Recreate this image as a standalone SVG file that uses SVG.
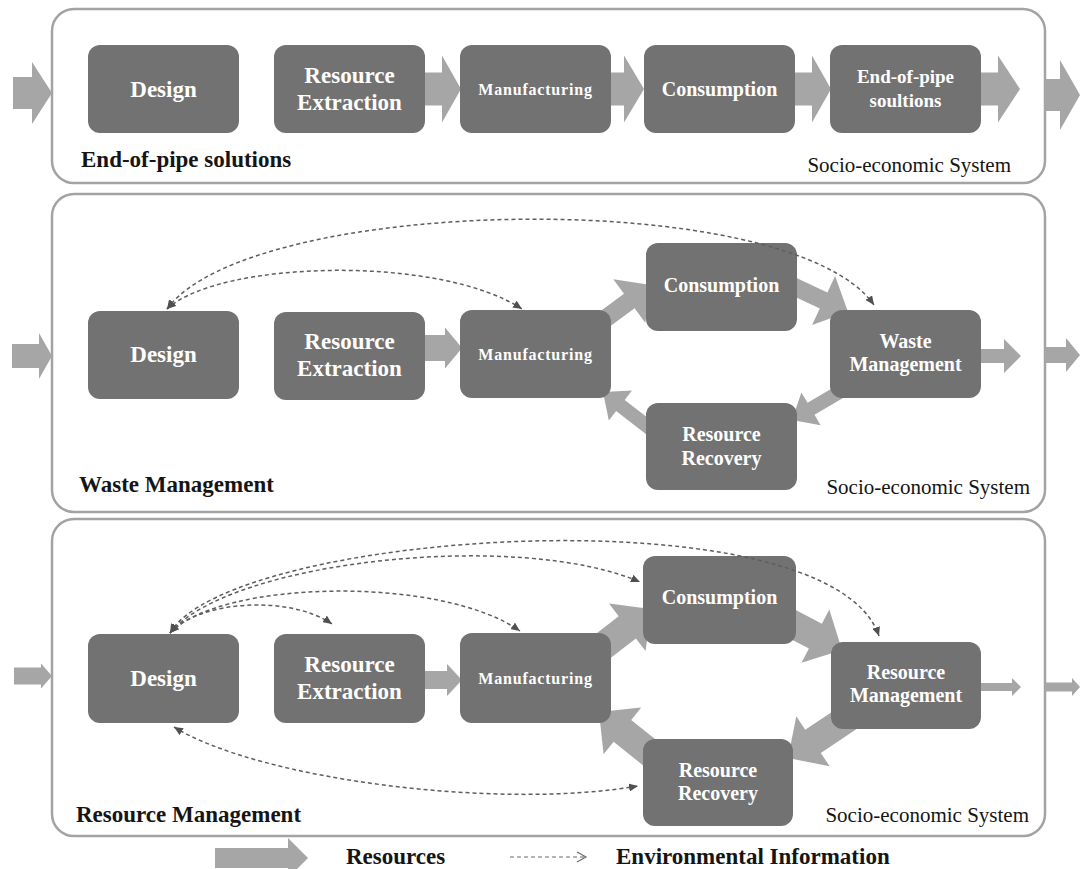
<svg xmlns="http://www.w3.org/2000/svg" width="1080" height="869" viewBox="0 0 1080 869">
<style>
.panel{fill:#fff;stroke:#a3a3a3;stroke-width:2.5}
.box{fill:#727272}
.bt{font-family:"Liberation Serif",serif;font-weight:bold;fill:#fff;text-anchor:middle}
.arr{fill:#a6a6a6}
.dash{fill:none;stroke:#5e5e5e;stroke-width:1.5;stroke-dasharray:4 3}
.lbl{font-family:"Liberation Serif",serif;font-weight:bold;font-size:23px;fill:#151515}
.sys{font-family:"Liberation Serif",serif;font-size:21px;fill:#151515;text-anchor:end}
</style>
<defs>
<marker id="ah" viewBox="0 0 9 8" refX="9" refY="4" markerWidth="9" markerHeight="8" markerUnits="userSpaceOnUse" orient="auto-start-reverse">
<path d="M0,0 L9,4 L0,8 z" fill="#505050"/>
</marker>
</defs>
<rect width="1080" height="869" fill="#fff"/>
<g id="panels">
<rect class="panel" x="52" y="9" width="993" height="174" rx="22"/>
<rect class="panel" x="52" y="194" width="993" height="318" rx="22"/>
<rect class="panel" x="52" y="519" width="993" height="317" rx="22"/>
</g>
<g id="connectors">
<polygon class="arr" points="13,77 32,77 32,62 52,93 32,124 32,109 13,109"/>
<polygon class="arr" points="420,72.5 442,72.5 442,55.5 461,89 442,122.5 442,105.5 420,105.5"/>
<polygon class="arr" points="606,72.5 624,72.5 624,55.5 644,89 624,122.5 624,105.5 606,105.5"/>
<polygon class="arr" points="790,72.5 812,72.5 812,55.5 831,89 812,122.5 812,105.5 790,105.5"/>
<polygon class="arr" points="976,72.5 998,72.5 998,55.5 1020,89 998,122.5 998,105.5 976,105.5"/>
<polygon class="arr" points="1045,79 1060,79 1060,60 1080,95 1060,130 1060,111 1045,111"/>
<polygon class="arr" points="12,344 39,344 39,333 52,356 39,379 39,368 12,368"/>
<polygon class="arr" points="420,335 445,335 445,327.5 462,348 445,368.5 445,361 420,361"/>
<polygon class="arr" points="976,349 1004,349 1004,339 1021,356 1004,373 1004,363 976,363"/>
<polygon class="arr" points="1045,347 1066,347 1066,338 1080,355 1066,372 1066,363 1045,363"/>
<polygon class="arr" points="595.3,337.2 634.6,308.2 645.3,322.7 651,285 613.3,279.3 624,293.8 584.7,322.8"/>
<polygon class="arr" points="776.2,288.1 819.8,308.6 812.1,324.9 848,312 835.1,276.1 827.4,292.4 783.8,271.9"/>
<polygon class="arr" points="856.5,374 807.5,402.8 801.4,392.4 792,420 820.6,425.2 814.5,414.8 863.5,386"/>
<polygon class="arr" points="669.3,434.5 624.7,400 632,390.5 603,392 608.8,420.5 616.1,411 660.7,445.5"/>
<polygon class="arr" points="14,667.5 41,667.5 41,663.5 52,676 41,688.5 41,684.5 14,684.5"/>
<polygon class="arr" points="420,671 447,671 447,664 462,680 447,696 447,689 420,689"/>
<polygon class="arr" points="976,683 1012,683 1012,678 1021,687 1012,696 1012,691 976,691"/>
<polygon class="arr" points="1045,682.5 1072,682.5 1072,678 1080,687 1072,696 1072,691.5 1045,691.5"/>
<polygon class="arr" points="593.6,671.1 635.9,638.4 645.6,651 651,609 609,603.6 618.7,616.2 576.4,648.9"/>
<polygon class="arr" points="768.5,627.4 808.9,648.5 801.5,662.7 842,650 829.3,609.5 821.9,623.7 781.5,602.6"/>
<polygon class="arr" points="852.2,698.4 805.2,729.7 796.3,716.3 788,758 829.7,766.3 820.8,752.9 867.8,721.6"/>
<polygon class="arr" points="673.8,754.1 631.2,719.9 641.2,707.4 599,712 603.6,754.2 613.6,741.7 656.2,775.9"/>
</g>
<g id="n1-design"><rect class="box" x="88" y="45" width="151" height="88" rx="12"/><text class="bt" x="163.5" y="97" font-size="23">Design</text></g>
<g id="n1-extraction"><rect class="box" x="274" y="45" width="151" height="88" rx="12"/><text class="bt" x="349.5" y="83" font-size="23">Resource</text><text class="bt" x="349.5" y="110" font-size="23">Extraction</text></g>
<g id="n1-manufacturing"><rect class="box" x="460" y="45" width="151" height="88" rx="12"/><text class="bt" x="535.5" y="95" font-size="16" letter-spacing="0.8">Manufacturing</text></g>
<g id="n1-consumption"><rect class="box" x="644" y="45" width="151" height="88" rx="12"/><text class="bt" x="719.5" y="96" font-size="20">Consumption</text></g>
<g id="n1-endofpipe"><rect class="box" x="830" y="45" width="151" height="88" rx="12"/><text class="bt" x="905.5" y="83" font-size="19">End-of-pipe</text><text class="bt" x="905.5" y="107" font-size="19">soultions</text></g>
<g id="n2-design"><rect class="box" x="88" y="311" width="151" height="88" rx="12"/><text class="bt" x="163.5" y="362" font-size="23">Design</text></g>
<g id="n2-extraction"><rect class="box" x="274" y="312" width="151" height="88" rx="12"/><text class="bt" x="349.5" y="349" font-size="23">Resource</text><text class="bt" x="349.5" y="376" font-size="23">Extraction</text></g>
<g id="n2-manufacturing"><rect class="box" x="460" y="310" width="151" height="88" rx="12"/><text class="bt" x="535.5" y="360" font-size="16" letter-spacing="0.8">Manufacturing</text></g>
<g id="n2-consumption"><rect class="box" x="646" y="243" width="151" height="88" rx="12"/><text class="bt" x="721.5" y="292" font-size="20">Consumption</text></g>
<g id="n2-waste"><rect class="box" x="830" y="310" width="151" height="88" rx="12"/><text class="bt" x="905.5" y="348" font-size="20">Waste</text><text class="bt" x="905.5" y="371" font-size="20">Management</text></g>
<g id="n2-recovery"><rect class="box" x="646" y="403" width="151" height="87" rx="12"/><text class="bt" x="721.5" y="441" font-size="20">Resource</text><text class="bt" x="721.5" y="465" font-size="20">Recovery</text></g>
<g id="n3-design"><rect class="box" x="88" y="634" width="151" height="89" rx="12"/><text class="bt" x="163.5" y="686" font-size="23">Design</text></g>
<g id="n3-extraction"><rect class="box" x="274" y="634" width="151" height="89" rx="12"/><text class="bt" x="349.5" y="672" font-size="23">Resource</text><text class="bt" x="349.5" y="699" font-size="23">Extraction</text></g>
<g id="n3-manufacturing"><rect class="box" x="460" y="633" width="151" height="90" rx="12"/><text class="bt" x="535.5" y="684" font-size="16" letter-spacing="0.8">Manufacturing</text></g>
<g id="n3-consumption"><rect class="box" x="643" y="556" width="153" height="88" rx="12"/><text class="bt" x="719.5" y="604" font-size="20">Consumption</text></g>
<g id="n3-resmgmt"><rect class="box" x="831" y="642" width="150" height="87" rx="12"/><text class="bt" x="906" y="679" font-size="20">Resource</text><text class="bt" x="906" y="702" font-size="20">Management</text></g>
<g id="n3-recovery"><rect class="box" x="643" y="739" width="150" height="87" rx="12"/><text class="bt" x="718" y="777" font-size="20">Resource</text><text class="bt" x="718" y="800" font-size="20">Recovery</text></g>
<g id="info-connectors">
<path class="dash" d="M167,309 C250,195 790,185 874,305" marker-start="url(#ah)" marker-end="url(#ah)"/>
<path class="dash" d="M167,309 C220,260 440,255 522,309" marker-start="url(#ah)" marker-end="url(#ah)"/>
<path class="dash" d="M170,633 C200,600 290,595 332,624" marker-start="url(#ah)" marker-end="url(#ah)"/>
<path class="dash" d="M170,633 C220,580 440,575 520,631" marker-start="url(#ah)" marker-end="url(#ah)"/>
<path class="dash" d="M170,633 C230,560 520,530 640,582" marker-start="url(#ah)" marker-end="url(#ah)"/>
<path class="dash" d="M170,633 C230,530 830,490 879,636" marker-start="url(#ah)" marker-end="url(#ah)"/>
<path class="dash" d="M174,727 C260,780 500,810 638,786" marker-start="url(#ah)" marker-end="url(#ah)"/>
</g>
<g id="labels">
<text class="lbl" x="81" y="167">End-of-pipe solutions</text>
<text class="sys" x="1011" y="172">Socio-economic System</text>
<text class="lbl" x="79" y="492">Waste Management</text>
<text class="sys" x="1030" y="494">Socio-economic System</text>
<text class="lbl" x="76" y="822">Resource Management</text>
<text class="sys" x="1029" y="822">Socio-economic System</text>
</g>
<g id="legend">
<polygon class="arr" points="215,848 288,848 288,838 308,858 288,878 288,868 215,868"/>
<text class="lbl" x="346" y="864">Resources</text>
<line x1="510" y1="857" x2="584" y2="857" stroke="#6a6a6a" stroke-width="1.2" stroke-dasharray="4 3"/>
<polyline points="577,852 586,857 577,862" fill="none" stroke="#6a6a6a" stroke-width="1.2"/>
<text class="lbl" x="616" y="864">Environmental Information</text>
</g>
</svg>
